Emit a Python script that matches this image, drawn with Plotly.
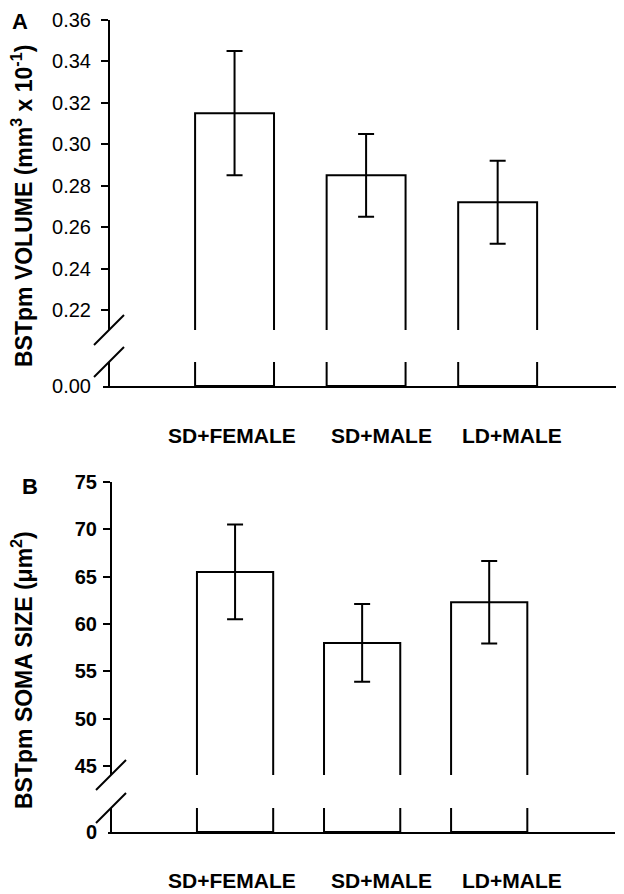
import plotly.graph_objects as go

# ---------------- data ----------------
categories = ["SD+FEMALE", "SD+MALE", "LD+MALE"]

volume_mean = [0.315, 0.285, 0.272]      # mm^3 x 10^-1
volume_err = [0.030, 0.020, 0.020]
volume_ticks = [0.22, 0.24, 0.26, 0.28, 0.30, 0.32, 0.34, 0.36]

soma_mean = [65.5, 58.0, 62.3]           # um^2
soma_err = [5.0, 4.1, 4.35]
soma_ticks = [45, 50, 55, 60, 65, 70, 75]

# ---------------- layout helpers ----------------
OFF = 8                      # page body margin of the html page
W, H = 624 - OFF, 894 - OFF
FONT = "Liberation Sans, Arial, Helvetica, sans-serif"


def py(y):  # window pixel y -> paper
    return 1 - (y - OFF) / H


def px(x):  # window pixel x -> paper
    return (x - OFF) / W


panels = [
    dict(vals=volume_mean, err=volume_err, ticks=volume_ticks, fmt="{:.2f}",
         zero_label="0.00", up_range=[0.2103, 0.36], low_range=[0, 0.01],
         up_px=(20, 330), low_px=(362, 386), x_px=(103, 620), yaxis_px=109,
         xrange=[-1.0, 2.93], tickbold=False, standoff=6,
         title="<b>BSTpm VOLUME (mm<sup>3</sup> x 10<sup>-1</sup>)</b>",
         title_y=206, letter="A", letter_xy=(20, 21), label_y=436,
         label_x=[232, 382, 512]),
    dict(vals=soma_mean, err=soma_err, ticks=soma_ticks, fmt="{:d}",
         zero_label="0", up_range=[44.05, 75], low_range=[0, 5],
         up_px=(482, 775), low_px=(808, 832), x_px=(108, 615), yaxis_px=111,
         xrange=[-1.0, 2.99], tickbold=True, standoff=2,
         title="<b>BSTpm SOMA SIZE (\u03bcm<sup>2</sup>)</b>",
         title_y=670, letter="B", letter_xy=(30, 487), label_y=880,
         label_x=[232, 382, 512]),
]

fig = go.Figure()
layout = dict(width=W, height=H, margin=dict(l=0, r=0, t=0, b=0),
              paper_bgcolor="white", plot_bgcolor="rgba(0,0,0,0)",
              showlegend=False, font=dict(family=FONT, color="black"))
annotations = []
shapes = []
xs = list(range(len(categories)))

for i, p in enumerate(panels):
    xn = "x" if i == 0 else f"x{i+1}"
    xkey = "xaxis" if i == 0 else f"xaxis{i+1}"
    yu = f"y{2*i+1}" if i > 0 else "y"
    yl = f"y{2*i+2}"
    yukey = "yaxis" if i == 0 else f"yaxis{2*i+1}"
    ylkey = f"yaxis{2*i+2}"

    # upper (broken) part with error bars
    fig.add_trace(go.Bar(x=xs, y=p["vals"], xaxis=xn, yaxis=yu, width=0.6,
                         marker=dict(color="white", line=dict(color="black", width=2)),
                         error_y=dict(type="data", array=p["err"], visible=True,
                                      color="black", thickness=2, width=8),
                         hoverinfo="skip"))
    # lower stub part (clipped bars)
    fig.add_trace(go.Bar(x=xs, y=p["vals"], xaxis=xn, yaxis=yl, width=0.6,
                         marker=dict(color="white", line=dict(color="black", width=2)),
                         hoverinfo="skip"))

    tfont = dict(family=FONT, size=20, color="black",
                 weight="bold" if p["tickbold"] else "normal")
    layout[xkey] = dict(domain=[px(p["x_px"][0]), px(p["x_px"][1])], range=p["xrange"],
                        anchor=yl, showline=True, linecolor="black", linewidth=2,
                        showticklabels=False, ticks="", showgrid=False, zeroline=False,
                        fixedrange=True)
    layout[yukey] = dict(domain=[py(p["up_px"][1]), py(p["up_px"][0])], range=p["up_range"],
                         anchor="free", position=px(p["yaxis_px"]),
                         showline=True, linecolor="black", linewidth=2,
                         ticks="outside", ticklen=7, tickwidth=2, tickcolor="black",
                         tickvals=p["ticks"], ticktext=[p["fmt"].format(t) for t in p["ticks"]],
                         ticklabelstandoff=p["standoff"],
                         tickfont=tfont, showgrid=False, zeroline=False, automargin=False)
    layout[ylkey] = dict(domain=[py(p["low_px"][1]), py(p["low_px"][0])], range=p["low_range"],
                         anchor="free", position=px(p["yaxis_px"]),
                         showline=True, linecolor="black", linewidth=2,
                         ticks="outside", ticklen=7, tickcolor="rgba(0,0,0,0)",
                         tickvals=[0], ticktext=[p["zero_label"]],
                         ticklabelstandoff=p["standoff"],
                         tickfont=tfont, showgrid=False, zeroline=False, automargin=False)

    # axis break slashes centred on the axis-segment ends
    ax = p["yaxis_px"]
    for yend in (p["up_px"][1], p["low_px"][0]):
        shapes.append(dict(type="line", xref="paper", yref="paper",
                           x0=px(ax - 15), y0=py(yend + 15), x1=px(ax + 15), y1=py(yend - 15),
                           line=dict(color="black", width=2)))

    # axis title
    annotations.append(dict(text=p["title"], xref="paper", yref="paper",
                            x=px(22), y=py(p["title_y"]), textangle=-90,
                            showarrow=False, xanchor="center", yanchor="middle",
                            font=dict(family=FONT, size=23, color="black")))
    # panel letter
    annotations.append(dict(text=f"<b>{p['letter']}</b>", xref="paper", yref="paper",
                            x=px(p["letter_xy"][0]), y=py(p["letter_xy"][1]),
                            showarrow=False, xanchor="center", yanchor="middle",
                            font=dict(family=FONT, size=22, color="black")))
    # category labels
    for c, lx in zip(categories, p["label_x"]):
        annotations.append(dict(text=f"<b>{c}</b>", xref="paper", yref="paper",
                                x=px(lx), y=py(p["label_y"]), showarrow=False,
                                xanchor="center", yanchor="middle",
                                font=dict(family=FONT, size=21, color="black")))

layout["annotations"] = annotations
layout["shapes"] = shapes
fig.update_layout(**layout)
fig.write_html("out.html")
